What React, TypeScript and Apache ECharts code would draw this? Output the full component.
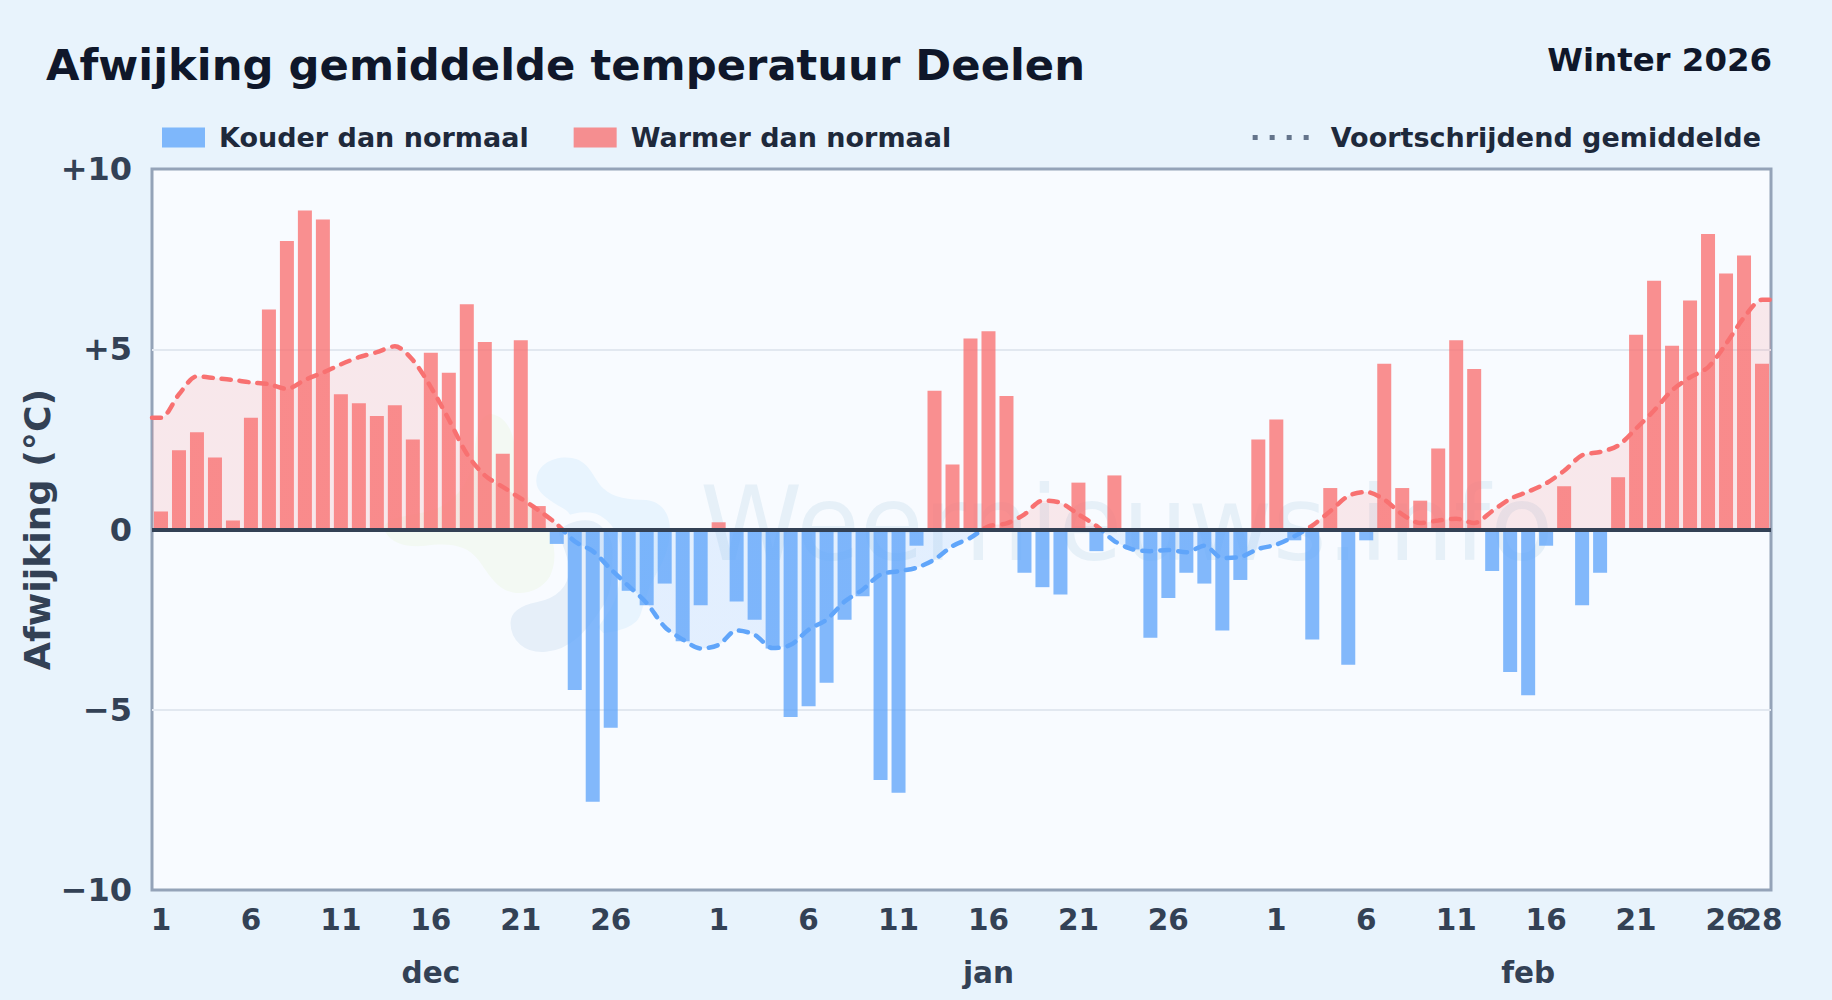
import React, { useEffect, useRef } from "react";
import * as echarts from "echarts";

const FONT = "'DejaVu Sans', sans-serif";

const dayLabels: string[] = [
  ...Array.from({ length: 31 }, (_, i) => String(i + 1)),
  ...Array.from({ length: 31 }, (_, i) => String(i + 1)),
  ...Array.from({ length: 28 }, (_, i) => String(i + 1)),
];
const labelledDayIndexes = [0, 5, 10, 15, 20, 25, 31, 36, 41, 46, 51, 56, 62, 67, 72, 77, 82, 87, 89];
const monthLabels: Record<number, string> = { 15: "dec", 46: "jan", 76: "feb" };

const decDeviation = [0.5, 2.2, 2.7, 2.0, 0.25, 3.1, 6.1, 8.0, 8.85, 8.6, 3.75, 3.5, 3.15, 3.45, 2.5, 4.9, 4.35, 6.25, 5.2, 2.1, 5.25, 0.65, -0.4, -4.45, -7.55, -5.5, -1.7, -2.1, -1.5, -3.1, -2.1];
const janDeviation = [0.2, -2.0, -2.5, -3.3, -5.2, -4.9, -4.25, -2.5, -1.85, -6.95, -7.3, -0.45, 3.85, 1.8, 5.3, 5.5, 3.7, -1.2, -1.6, -1.8, 1.3, -0.6, 1.5, -0.55, -3.0, -1.9, -1.2, -1.5, -2.8, -1.4, 2.5];
const febDeviation = [3.05, -0.3, -3.05, 1.15, -3.75, -0.3, 4.6, 1.15, 0.8, 2.25, 5.25, 4.45, -1.15, -3.95, -4.6, -0.45, 1.2, -2.1, -1.2, 1.45, 5.4, 6.9, 5.1, 6.35, 8.2, 7.1, 7.6, 4.6];
const deviation = [...decDeviation, ...janDeviation, ...febDeviation];

const rollingMean = [
  3.1, 3.75, 4.25, 4.2, 4.15, 4.08, 4.03, 3.9, 4.15, 4.35, 4.58, 4.78, 4.92, 5.08, 4.7, 3.95, 3.05, 2.1, 1.5, 1.18, 0.86, 0.53, 0.15,
  -0.33, -0.6, -1.1, -1.57, -2.04, -2.7, -3.05, -3.3, -3.2, -2.8, -2.92, -3.29, -3.2, -2.78, -2.5, -2.0, -1.67, -1.25, -1.16, -1.06, -0.83, -0.46, -0.23,
  0.09, 0.17, 0.42, 0.8, 0.74, 0.42, 0.1, -0.32, -0.55, -0.6, -0.57, -0.63, -0.45, -0.79, -0.76, -0.54, -0.42, -0.19,
  0.11, 0.51, 0.93, 1.04, 0.83, 0.42, 0.18, 0.25, 0.3, 0.18, 0.51, 0.85, 1.05, 1.28, 1.63, 2.06, 2.15, 2.33, 2.8, 3.3, 3.86, 4.22, 4.5, 5.15, 5.88, 6.37,
];

const titleText = "Afwijking gemiddelde temperatuur Deelen";
const seasonText = "Winter 2026";
const coldName = "Kouder dan normaal";
const warmName = "Warmer dan normaal";
const meanName = "Voortschrijdend gemiddelde";
const axisTitle = "Afwijking (°C)";
const watermarkText = "Weernieuws.info";

const blobLight = "M530,235 C535,190 590,165 640,175 C690,185 700,235 730,265 C760,295 810,300 860,300 C910,305 935,350 930,400 C925,470 900,500 870,560 C860,590 850,620 842,645 C830,680 780,695 730,700 L640,600 L600,420 C650,360 640,340 600,320 C550,290 525,270 530,235 Z";
const blobDark = "M440,670 C440,625 480,605 530,595 C580,585 620,555 615,500 C610,460 590,430 585,400 C590,370 640,345 690,350 C730,355 770,400 770,450 C770,530 770,590 730,640 C690,700 640,760 560,768 C490,775 440,730 440,670 Z";
const blobGreen = "M395,42 C440,50 465,100 465,160 C465,240 510,300 560,380 C590,430 590,490 570,530 C545,570 500,585 460,578 C410,570 385,520 355,480 C325,440 280,430 220,435 C160,445 100,440 75,395 C60,350 150,350 220,330 C300,300 340,230 345,150 C350,90 360,45 395,42 Z";

echarts.graphic.registerShape("wmBlobLight", echarts.graphic.extendPath(blobLight, {}));
echarts.graphic.registerShape("wmBlobDark", echarts.graphic.extendPath(blobDark, {}));
echarts.graphic.registerShape("wmBlobGreen", echarts.graphic.extendPath(blobGreen, {}));

const RED = "#f87171";
const BLUE = "#60a5fa";
const LABEL = "#334155";
const PLOT_BG = "#f8fbff";

export default function App() {
  const ref = useRef<HTMLDivElement>(null);
  useEffect(() => {
    const chart = echarts.init(ref.current!, undefined, { renderer: "svg" });
    const lineData: [number, number][] = [
      [-0.5, rollingMean[0]],
      ...rollingMean.map((v, i) => [i, v] as [number, number]),
      [89.5, rollingMean[rollingMean.length - 1]],
    ];
    const labelled = new Set(labelledDayIndexes);
    chart.setOption({
      animation: false,
      backgroundColor: "#e8f3fc",
      textStyle: { fontFamily: FONT },
      title: [
        { text: titleText, left: 41, top: 38, textStyle: { fontFamily: FONT, fontSize: 43.3, fontWeight: "bold", color: "#0f172a" } },
        { text: seasonText, right: 55, top: 39, textStyle: { fontFamily: FONT, fontSize: 32.4, fontWeight: "bold", color: "#0f172a" } },
      ],
      legend: [
        {
          data: [coldName, warmName], left: 157, top: 119, itemWidth: 43, itemHeight: 20, itemGap: 45, icon: "rect",
          textStyle: { fontFamily: FONT, fontSize: 27, fontWeight: "bold", color: "#1e293b", padding: [0, 0, 0, 9] },
        },
        {
          data: [meanName], right: 66, top: 119, itemWidth: 59, itemHeight: 20,
          lineStyle: { color: "#64748b", type: [5, 12], width: 5, cap: "butt" },
          itemStyle: { opacity: 0 },
          textStyle: { fontFamily: FONT, fontSize: 27, fontWeight: "bold", color: "#1e293b", padding: [0, 0, 0, 14] },
        },
      ],
      grid: {
        left: 152, top: 169, right: 61, bottom: 110, show: true, z: -1,
        backgroundColor: PLOT_BG, borderColor: "#94a3b8", borderWidth: 3,
      },
      xAxis: [
        {
          type: "category", data: dayLabels, axisLine: { show: false }, axisTick: { show: false },
          axisLabel: {
            interval: 0, margin: 15, fontSize: 29.5, fontWeight: "bold", color: LABEL, fontFamily: FONT,
            formatter: (v: string, i: number) => (labelled.has(i) ? v : ""),
          },
        },
        {
          type: "category", data: dayLabels, position: "bottom", offset: 53, axisLine: { show: false }, axisTick: { show: false },
          axisLabel: {
            interval: (i: number) => i in monthLabels,
            formatter: (_: string, i: number) => monthLabels[i] ?? "",
            margin: 15, fontSize: 29.5, fontWeight: "bold", color: LABEL, fontFamily: FONT,
          },
        },
        { type: "value", show: false, min: -0.5, max: 89.5, splitLine: { show: false } },
      ],
      yAxis: {
        type: "value", min: -10, max: 10, interval: 5,
        name: axisTitle, nameLocation: "middle", nameGap: 97, nameRotate: 90, nameMoveOverlap: false,
        nameTextStyle: { fontFamily: FONT, fontSize: 36.3, fontWeight: "bold", color: LABEL },
        axisLine: { show: false }, axisTick: { show: false },
        axisLabel: {
          margin: 20, fontSize: 32, fontWeight: "bold", color: LABEL, fontFamily: FONT,
          formatter: (v: number) => (v > 0 ? `+${v}` : v < 0 ? `\u2212${-v}` : "0"),
        },
        splitLine: { show: true, showMinLine: false, showMaxLine: false, lineStyle: { color: "#e2e8f0", width: 2 } },
      },
      visualMap: {
        show: false, type: "piecewise", seriesIndex: 2, dimension: 1,
        pieces: [{ min: -20, max: 0, color: BLUE }, { min: 0, max: 20, color: RED }],
      },
      series: [
        {
          name: coldName, type: "bar", xAxisIndex: 1, barWidth: 14,
          data: deviation.map((v) => (v < 0 ? v : null)),
          itemStyle: { color: BLUE, opacity: 0.78 },
        },
        {
          name: warmName, type: "bar", xAxisIndex: 0, barWidth: 14,
          data: deviation.map((v) => (v > 0 ? v : null)),
          itemStyle: { color: RED, opacity: 0.78 },
          markLine: {
            silent: true, symbol: "none", label: { show: false },
            lineStyle: { color: LABEL, width: 4, type: "solid" },
            data: [{ yAxis: 0 }],
          },
        },
        {
          name: meanName, type: "line", xAxisIndex: 2, data: lineData, smooth: 0.3, showSymbol: false, symbol: "none", z: 4,
          lineStyle: { width: 4.5, type: [9, 9], cap: "round" },
          areaStyle: { opacity: 0.14 },
        },
      ],
      graphic: [
        { type: "wmBlobGreen", x: 360, y: 400, scaleX: 1 / 3, scaleY: 1 / 3, z: -1, silent: true, style: { fill: "#f3f9f3" } },
        { type: "wmBlobLight", x: 360, y: 400, scaleX: 1 / 3, scaleY: 1 / 3, z: -1, silent: true, style: { fill: "#e8f4fe" } },
        { type: "wmBlobDark", x: 360, y: 400, scaleX: 1 / 3, scaleY: 1 / 3, z: -1, silent: true, style: { fill: "#e6eff9", stroke: PLOT_BG, lineWidth: 24 } },
        {
          type: "text", x: 700, y: 472, z: -1, silent: true,
          style: { text: watermarkText, fontFamily: FONT, fontSize: 103.5, fill: "#1d6fa5", opacity: 0.08, textAlign: "left" },
        },
      ],
    });
    return () => chart.dispose();
  }, []);
  return <div ref={ref} style={{ position: "fixed", left: 0, top: 0, width: 1832, height: 1000 }} />;
}
